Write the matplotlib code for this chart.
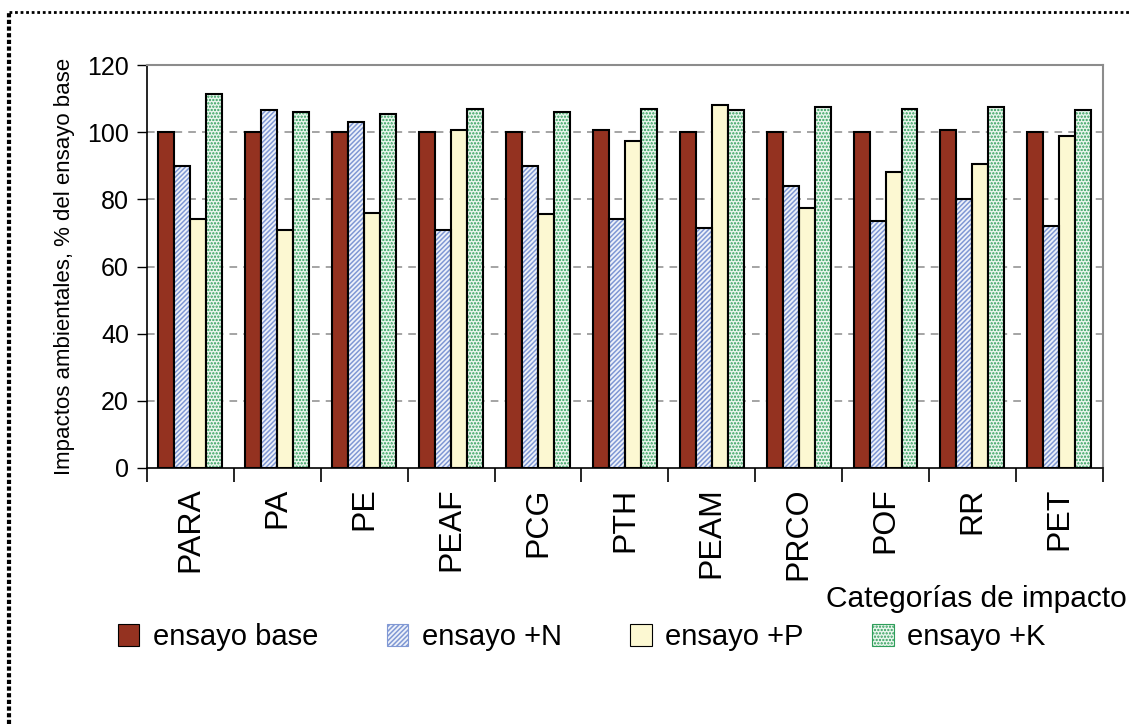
import matplotlib
matplotlib.use("Agg")
import matplotlib.pyplot as plt
import numpy as np
from matplotlib.patches import Patch
from matplotlib.lines import Line2D

plt.rcParams['font.family'] = ['Liberation Sans', 'DejaVu Sans']
plt.rcParams['hatch.linewidth'] = 1.1

categories = ["PARA", "PA", "PE", "PEAF", "PCG", "PTH", "PEAM", "PRCO", "POF", "RR", "PET"]
ensayo_base = [100, 100, 100, 100, 100, 100.5, 100, 100, 100, 100.5, 100]
ensayo_N = [90, 106.5, 103, 71, 90, 74, 71.5, 84, 73.5, 80, 72]
ensayo_P = [74, 71, 76, 100.5, 75.5, 97.5, 108, 77.5, 88, 90.5, 99]
ensayo_K = [111.5, 106, 105.5, 107, 106, 107, 106.5, 107.5, 107, 107.5, 106.5]
series_names = ["ensayo base", "ensayo +N", "ensayo +P", "ensayo +K"]
y_ticks = [0, 20, 40, 60, 80, 100, 120]

fig = plt.figure(figsize=(11.31, 7.24), dpi=100)
ax = fig.add_axes([0.130, 0.3536, 0.845, 0.5566])

x = np.arange(len(categories))
w = 0.184
styles = [
    dict(face="#943220", hatch=None, hcol=None),
    dict(face="#EEF2FA", hatch="///////", hcol="#8098D4"),
    dict(face="#FCF8D2", hatch=None, hcol=None),
    dict(face="#EAF6EE", hatch=".....", hcol="#2E9E5A"),
]
data = [ensayo_base, ensayo_N, ensayo_P, ensayo_K]
handles = []
for i, (vals, st) in enumerate(zip(data, styles)):
    pos = x - 1.5 * w + i * w
    if st["hatch"]:
        ax.bar(pos, vals, w, color=st["face"], edgecolor=st["hcol"], hatch=st["hatch"], linewidth=0, zorder=3)
        ax.bar(pos, vals, w, fill=False, edgecolor="black", linewidth=1.5, zorder=4)
        handles.append(Patch(facecolor=st["face"], edgecolor=st["hcol"], hatch=st["hatch"], linewidth=0.8))
    else:
        ax.bar(pos, vals, w, color=st["face"], edgecolor="black", linewidth=1.5, zorder=3)
        handles.append(Patch(facecolor=st["face"], edgecolor="black", linewidth=0.8))

ax.set_xlim(-0.5, len(categories) - 0.5)
ax.set_ylim(0, 120)
ax.set_yticks(y_ticks)
ax.set_yticklabels([str(v) for v in y_ticks], fontsize=18)
ax.set_xticks(x)
ax.set_xticklabels(categories, rotation=90, fontsize=23)
ax.tick_params(axis='x', which='major', length=0, pad=14)
ax.set_xticks(np.arange(len(categories) + 1) - 0.5, minor=True)
ax.tick_params(axis='x', which='minor', length=10, width=1.2, direction='out', color='black')
ax.tick_params(axis='y', length=7, width=1, direction='out', pad=6)

for v in y_ticks[1:-1]:
    ax.axhline(v, color="#8C8C8C", linestyle=(0, (5, 4)), linewidth=1.1, zorder=1)

ax.spines['left'].set_color('black')
ax.spines['bottom'].set_color('black')
ax.spines['left'].set_linewidth(1.2)
ax.spines['bottom'].set_linewidth(1.2)
ax.spines['top'].set_color('#8C8C8C')
ax.spines['right'].set_color('#8C8C8C')
ax.spines['top'].set_linewidth(1.5)
ax.spines['right'].set_linewidth(1.5)

ax.set_ylabel("Impactos ambientales, % del ensayo base", fontsize=16, labelpad=9)
fig.text(0.996, 0.172, "Categorías de impacto", fontsize=21.5, ha='right', va='center')

leg = fig.legend(handles, series_names, loc='center left', bbox_to_anchor=(0.104, 0.12),
                 ncol=4, frameon=False, fontsize=21, handlelength=0.75, handleheight=0.75,
                 columnspacing=2.35, handletextpad=0.45, borderpad=0, borderaxespad=0)

fig.lines.append(Line2D([0.008, 1.0], [0.9834, 0.9834], transform=fig.transFigure,
                        color='black', linestyle=(0, (1, 1)), linewidth=2.0))
fig.lines.append(Line2D([0.008, 0.008], [0.0, 0.9834], transform=fig.transFigure,
                        color='black', linestyle=(0, (1, 0.6)), linewidth=3.0))

fig.savefig("out.png", dpi=100)
